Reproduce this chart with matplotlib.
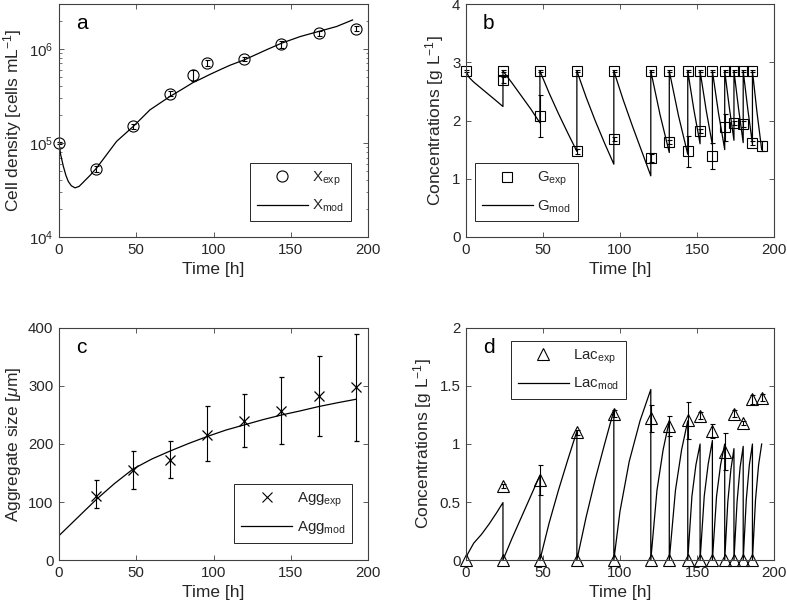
import numpy as np
import matplotlib
matplotlib.use("Agg")
import matplotlib.pyplot as plt
from matplotlib.lines import Line2D
from matplotlib.ticker import NullFormatter, LogLocator

# ---------------- data ----------------
# (a) cell density
X_t = [0, 24, 48, 72, 87, 96, 120, 144, 168, 192]
X_exp = [1.0e5, 5.3e4, 1.5e5, 3.34e5, 5.3e5, 7.1e5, 7.8e5, 1.12e6, 1.47e6, 1.64e6]
X_err = [3e3, 4.5e3, 1.0e4, 2.2e4, 7e4, 5e4, 4e4, 1.0e5, 9e4, 1.0e5]
Xmod_t = [0, 1, 2.8, 4.5, 6, 8, 10.4, 13, 15.7, 20, 24.4, 30, 37.3, 48.1, 58.9, 71.8,
          80, 86.9, 91.3, 97.7, 104.2, 110.7, 120.4, 134.4, 144.1, 156, 167.9, 179.7, 190]
Xmod = [1.0e5, 7.6e4, 5.65e4, 4.5e4, 3.9e4, 3.5e4, 3.33e4, 3.45e4, 3.82e4, 4.5e4, 5.43e4,
        7.2e4, 1.04e5, 1.5e5, 2.25e5, 3.12e5, 3.75e5, 4.4e5, 4.75e5, 5.35e5, 6.0e5, 6.7e5,
        7.7e5, 9.8e5, 1.15e6, 1.35e6, 1.53e6, 1.73e6, 2.03e6]

# (b) glucose
G_t_feed = [0, 24, 48, 72, 96, 120, 132, 144, 152, 160, 168, 174, 180, 186]
G_feed = [2.85] * 14
G_feed_err = [0.02] * 14
G_t_samp = [24, 48, 72, 96, 120, 132, 144, 152, 160, 168, 174, 180, 186, 192]
G_samp = [2.70, 2.07, 1.47, 1.68, 1.355, 1.63, 1.47, 1.82, 1.395, 1.88, 1.955, 1.94, 1.61, 1.566]
G_samp_err = [0.05, 0.36, 0.04, 0.04, 0.07, 0.04, 0.26, 0.04, 0.22, 0.24, 0.03, 0.05, 0.03, 0.09]
Gmod_t = [0, 2, 5, 10, 15, 20, 24,
          24, 30, 36, 42, 48,
          48, 54, 60, 66, 72,
          72, 78, 84, 90, 96,
          96, 102, 108, 114, 120,
          120, 126, 132,
          132, 138, 144,
          144, 148, 152,
          152, 156, 160,
          160, 164, 168,
          168, 171, 174,
          174, 177, 180,
          180, 183, 186,
          186, 189, 192]
Gmod = [2.85, 2.74, 2.66, 2.55, 2.44, 2.33, 2.24,
        2.85, 2.64, 2.42, 2.20, 1.96,
        2.85, 2.47, 2.12, 1.79, 1.47,
        2.85, 2.40, 1.99, 1.61, 1.25,
        2.85, 2.36, 1.91, 1.48, 1.05,
        2.85, 2.10, 1.45,
        2.85, 2.08, 1.42,
        2.85, 2.18, 1.60,
        2.85, 2.17, 1.58,
        2.85, 2.12, 1.50,
        2.85, 2.22, 1.66,
        2.85, 2.20, 1.62,
        2.85, 2.19, 1.60,
        2.85, 2.13, 1.50]

# (c) aggregate size
A_t = [24, 48, 72, 96, 120, 144, 168, 192]
A_exp = [111, 155, 173, 216, 240, 257, 282, 298]
A_lo = [89, 122, 142, 170, 194, 200, 213, 206]
A_hi = [138, 188, 206, 265, 286, 315, 352, 390]
Amod_t = [0, 12, 24, 36, 48, 60, 72, 84, 96, 108, 120, 132, 144, 156, 168, 180, 192]
Amod = [42, 73, 104, 132, 157, 174, 188, 201, 213, 224, 233, 242, 250, 257, 264.5, 271, 277]

# (d) lactate
L_t_feed = [0, 24, 48, 72, 96, 120, 132, 144, 152, 160, 168, 174, 180, 186]
L_feed = [0.0] * 14
L_t_samp = [24, 48, 72, 96, 120, 132, 144, 152, 160, 168, 174, 180, 186, 192]
L_samp = [0.637, 0.69, 1.10, 1.26, 1.22, 1.155, 1.205, 1.245, 1.115, 0.934, 1.26, 1.18, 1.386, 1.40]
L_samp_err = [0.02, 0.13, 0.02, 0.03, 0.12, 0.085, 0.16, 0.03, 0.06, 0.16, 0.03, 0.02, 0.04, 0.03]
Lmod_t = [0, 1, 5, 10, 15, 20, 24,
          24, 30, 36, 42, 48,
          48, 54, 60, 66, 72,
          72, 78, 84, 90, 96,
          96, 100, 106, 113, 120,
          120, 124, 128, 132,
          132, 136, 140, 144,
          144, 146.7, 149.3, 152,
          152, 154.7, 157.3, 160,
          160, 162.7, 165.3, 168,
          168, 170, 172, 174,
          174, 176, 178, 180,
          180, 182, 184, 186,
          186, 188, 190, 192]
Lmod = [0.0, 0.05, 0.145, 0.22, 0.31, 0.41, 0.495,
        0.0, 0.19, 0.37, 0.55, 0.73,
        0.0, 0.32, 0.60, 0.86, 1.11,
        0.0, 0.37, 0.70, 1.00, 1.29,
        0.0, 0.42, 0.85, 1.20, 1.47,
        0.0, 0.60, 0.95, 1.20,
        0.0, 0.60, 0.95, 1.20,
        0.0, 0.55, 0.82, 1.00,
        0.0, 0.55, 0.83, 1.03,
        0.0, 0.55, 0.82, 1.00,
        0.0, 0.50, 0.78, 0.96,
        0.0, 0.50, 0.80, 0.98,
        0.0, 0.52, 0.82, 1.00,
        0.0, 0.52, 0.82, 1.00]

# ---------------- style ----------------
plt.rcParams.update({
    "font.family": ["Liberation Sans", "DejaVu Sans"],
    "mathtext.fontset": "custom",
    "mathtext.rm": "Liberation Sans",
    "mathtext.it": "Liberation Sans:italic",
    "mathtext.bf": "Liberation Sans:bold",
    "axes.linewidth": 0.8,
    "axes.edgecolor": "0.25",
    "xtick.direction": "in",
    "ytick.direction": "in",
    "xtick.top": True,
    "ytick.right": True,
    "xtick.color": "0.25",
    "ytick.color": "0.25",
    "xtick.labelcolor": "0.15",
    "ytick.labelcolor": "0.15",
    "xtick.major.size": 3.6,
    "ytick.major.size": 3.6,
    "xtick.minor.size": 1.8,
    "ytick.minor.size": 1.8,
    "xtick.major.width": 0.6,
    "ytick.major.width": 0.6,
    "ytick.minor.width": 0.5,
    "xtick.labelsize": 10.8,
    "ytick.labelsize": 10.8,
    "axes.labelsize": 12.5,
    "axes.labelcolor": "0.15",
})

TXT = "0.15"
LW = 0.9
EB = dict(ecolor="k", elinewidth=0.8, capsize=1.8, capthick=0.8, ls="none")

fig = plt.figure(figsize=(7.87, 6.11), dpi=100)
W, H = 787.0, 611.0
axA = fig.add_axes([59 / W, 1 - 237 / H, 309 / W, 233 / H])
axB = fig.add_axes([466 / W, 1 - 237 / H, 308 / W, 233 / H])
axC = fig.add_axes([59 / W, 1 - 560 / H, 309 / W, 232 / H])
axD = fig.add_axes([466 / W, 1 - 560 / H, 308 / W, 232 / H])


def make_legend(ax, marker, ms, lab_exp, lab_mod, loc, anchor):
    h1 = Line2D([], [], ls="none", marker=marker, mfc="none", mec="k", ms=ms, mew=0.8)
    h2 = Line2D([], [], color="k", lw=LW)
    leg = ax.legend([h1, h2], [lab_exp, lab_mod], loc=loc, bbox_to_anchor=anchor,
                    fontsize=10.8, frameon=True, fancybox=False, framealpha=1,
                    edgecolor="0.15", handlelength=3.4, handletextpad=0.3,
                    borderpad=0.45, labelspacing=0.65, borderaxespad=0)
    leg.get_frame().set_linewidth(0.7)
    for t in leg.get_texts():
        t.set_color(TXT)
    return leg


def panel_label(ax, s):
    ax.text(0.055, 0.915, s, transform=ax.transAxes, fontsize=15, color="k",
            ha="left", va="center")


def eb(ax, x, y, yerr, marker, ms):
    cont = ax.errorbar(x, y, yerr=yerr, fmt=marker, mfc="none", mec="k", ms=ms, mew=0.8, **EB)
    for art in cont.get_children():
        art.set_clip_on(False)
    return cont


# (a)
axA.set_yscale("log")
eb(axA, X_t, X_exp, X_err, "o", 8.0)
axA.plot(Xmod_t, Xmod, color="k", lw=LW)
axA.set_xlim(0, 200)
axA.set_ylim(1e4, 3e6)
axA.yaxis.set_minor_locator(LogLocator(base=10, subs=np.arange(2, 10)))
axA.yaxis.set_minor_formatter(NullFormatter())
axA.set_xticks([0, 50, 100, 150, 200])
axA.set_xlabel("Time [h]")
axA.set_ylabel("Cell density [cells mL$^{-1}$]")
panel_label(axA, "a")
make_legend(axA, "o", 8.0, "X$_{\\mathrm{exp}}$", "X$_{\\mathrm{mod}}$",
            "lower right", (0.945, 0.069))

# (b)
axB.plot(Gmod_t, Gmod, color="k", lw=LW)
eb(axB, G_t_feed, G_feed, G_feed_err, "s", 6.5)
eb(axB, G_t_samp, G_samp, G_samp_err, "s", 6.5)
axB.set_xlim(0, 200)
axB.set_ylim(0, 4)
axB.set_xticks([0, 50, 100, 150, 200])
axB.set_yticks([0, 1, 2, 3, 4])
axB.set_xlabel("Time [h]")
axB.set_ylabel("Concentrations [g L$^{-1}$]")
panel_label(axB, "b")
make_legend(axB, "s", 6.5, "G$_{\\mathrm{exp}}$", "G$_{\\mathrm{mod}}$",
            "lower left", (0.029, 0.067))

# (c)
A_exp_a = np.array(A_exp, dtype=float)
A_yerr = [A_exp_a - np.array(A_lo), np.array(A_hi) - A_exp_a]
axC.errorbar(A_t, A_exp, yerr=A_yerr, fmt="x", mec="k", ms=7.0, mew=0.9, **EB)
axC.plot(Amod_t, Amod, color="k", lw=LW)
axC.set_xlim(0, 200)
axC.set_ylim(0, 400)
axC.set_xticks([0, 50, 100, 150, 200])
axC.set_yticks([0, 100, 200, 300, 400])
axC.set_xlabel("Time [h]")
axC.set_ylabel("Aggregate size [$\\mu$m]")
panel_label(axC, "c")
make_legend(axC, "x", 7.0, "Agg$_{\\mathrm{exp}}$", "Agg$_{\\mathrm{mod}}$",
            "lower right", (0.948, 0.075))

# (d)
axD.plot(Lmod_t, Lmod, color="k", lw=LW)
eb(axD, L_t_feed, L_feed, None, "^", 9.0)
eb(axD, L_t_samp, L_samp, L_samp_err, "^", 9.0)
axD.set_xlim(0, 200)
axD.set_ylim(0, 2)
axD.set_xticks([0, 50, 100, 150, 200])
axD.set_yticks([0, 0.5, 1, 1.5, 2])
axD.set_yticklabels(["0", "0.5", "1", "1.5", "2"])
axD.set_xlabel("Time [h]")
axD.set_ylabel("Concentrations [g L$^{-1}$]")
panel_label(axD, "d")
make_legend(axD, "^", 9.0, "Lac$_{\\mathrm{exp}}$", "Lac$_{\\mathrm{mod}}$",
            "upper left", (0.146, 0.944))

for ax in (axA, axB, axC, axD):
    ax.tick_params(axis="both", which="major", pad=4)
    for sp in ax.spines.values():
        sp.set_zorder(5)

fig.savefig("out.png", dpi=100)
